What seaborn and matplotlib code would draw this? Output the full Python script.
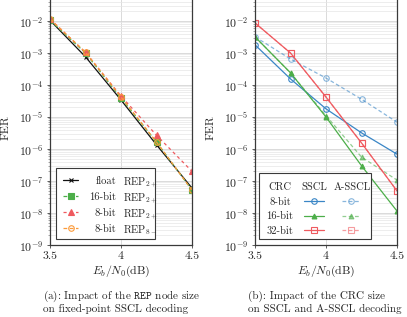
import numpy as np
import matplotlib
matplotlib.use("Agg")
import matplotlib.pyplot as plt
import seaborn as sns
from matplotlib.ticker import FixedLocator, FuncFormatter, LogLocator, NullFormatter
from matplotlib.offsetbox import DrawingArea, AnchoredOffsetbox
from matplotlib.lines import Line2D
from matplotlib.text import Text

sns.set_theme(style="ticks")
plt.rcParams["font.family"] = ["cmr10", "DejaVu Serif"]
plt.rcParams["mathtext.fontset"] = "cm"
plt.rcParams["axes.unicode_minus"] = False
plt.rcParams["axes.formatter.use_mathtext"] = True

# Eb/N0 values (dB)
snr = [3.5, 3.75, 4.0, 4.25, 4.5]

# (a) REP node size, fixed point SSCL
fer_float = [1.05e-2, 7.6e-4, 3.4e-5, 1.35e-6, 6.0e-8]
fer_16bit_rep2 = [1.05e-2, 1.0e-3, 3.9e-5, 1.65e-6, 5.2e-8]
fer_8bit_rep2 = [1.15e-2, 1.05e-3, 4.5e-5, 2.7e-6, 2.0e-7]
fer_8bit_rep8 = [1.15e-2, 1.05e-3, 4.2e-5, 1.65e-6, 5.2e-8]

# (b) CRC size, SSCL vs A-SSCL
sscl_8 = [1.8e-3, 1.55e-4, 1.8e-5, 3.2e-6, 6.9e-7]
sscl_16 = [3.2e-3, 2.4e-4, 1.0e-5, 3.0e-7, 1.15e-8]
sscl_32 = [8.7e-3, 1.0e-3, 4.2e-5, 1.55e-6, 4.9e-8]
assc_8 = [3.2e-3, 6.5e-4, 1.65e-4, 3.6e-5, 6.9e-6]
assc_16 = [3.2e-3, 2.4e-4, 1.1e-5, 5.6e-7, 1.07e-7]
assc_32 = [8.7e-3, 1.0e-3, 4.2e-5, 1.55e-6, 4.9e-8]

decades = [1e-9, 1e-8, 1e-7, 1e-6, 1e-5, 1e-4, 1e-3, 1e-2]

BLUE = "#3a86c6"
GREEN = "#4cae49"
RED = "#ef5a5f"
ORANGE = "#fb9a3a"
DASH = (0, (3, 2))
PX = 72 / 100  # points per pixel
FS = 8.5
LFS = 7.6
SERIF = ["cmr10", "DejaVu Serif"]

fig = plt.figure(figsize=(4.07, 3.17), dpi=100)
ax1 = fig.add_axes([50 / 407, 72 / 317, 142 / 407, 256 / 317])
ax2 = fig.add_axes([255 / 407, 72 / 317, 142 / 407, 256 / 317])


def style_axis(ax):
    ax.set_yscale("log")
    ax.set_xlim(3.5, 4.5)
    ax.set_ylim(1e-9, 1e-1)
    ax.xaxis.set_major_locator(FixedLocator([3.5, 4.0, 4.5]))
    ax.xaxis.set_major_formatter(FuncFormatter(lambda v, p: "%g" % v))
    ax.yaxis.set_major_locator(FixedLocator(decades))
    ax.yaxis.set_minor_locator(LogLocator(base=10, subs=np.arange(2, 10), numticks=20))
    ax.yaxis.set_minor_formatter(NullFormatter())
    ax.yaxis.set_major_formatter(FuncFormatter(lambda v, p: r"$10^{%d}$" % round(np.log10(v))))
    ax.grid(True, which="major", color="#d4d4d4", lw=0.6)
    ax.grid(True, which="minor", axis="y", color="#e6e6e6", lw=0.5)
    ax.tick_params(which="major", direction="out", length=2.5, width=0.6, color="#444444",
                   labelsize=FS, pad=2)
    ax.tick_params(which="minor", direction="out", length=1.2, width=0.4, color="#666666")
    for s in ax.spines.values():
        s.set_color("#3a3a3a")
        s.set_linewidth(0.9)
    ax.set_ylabel("FER", fontsize=FS)
    ax.yaxis.set_label_coords(-0.28, 0.46)
    ax.set_xlabel(r"$E_b/N_0$(dB)", fontsize=FS)
    ax.xaxis.set_label_coords(0.5, -0.075)


def curve(ax, y, color, marker, ls="-", filled=False, ms=4, alpha=1.0):
    sns.lineplot(x=snr, y=y, ax=ax, color=color, linestyle=ls, lw=0.9, alpha=alpha,
                 marker=marker, markersize=ms, markeredgewidth=0.8,
                 markeredgecolor=color, markerfacecolor=color if filled else "none")


def legend_box(ax, w, h, anchor):
    da = DrawingArea(w * PX, h * PX, clip=False)
    ab = AnchoredOffsetbox(loc="lower left", child=da, pad=0.0, borderpad=0.0, frameon=True,
                           bbox_to_anchor=anchor, bbox_transform=ax.transAxes)
    ab.patch.set_boxstyle("square", pad=0)
    ab.patch.set_edgecolor("#3a3a3a")
    ab.patch.set_linewidth(0.8)
    ab.patch.set_facecolor("white")
    ab.set_zorder(6)
    ax.add_artist(ab)
    return da


def add_handle(da, h, cx, cy, half, color, marker, ls="-", filled=False, ms=4, alpha=1.0):
    y = (h - cy) * PX
    da.add_artist(Line2D([(cx - half) * PX, (cx + half) * PX], [y, y], color=color, lw=0.9,
                         linestyle=ls, alpha=alpha))
    da.add_artist(Line2D([cx * PX], [y], color=color, marker=marker, markersize=ms,
                         markeredgewidth=0.8, markerfacecolor=color if filled else "none",
                         alpha=alpha, linestyle="none"))


def add_text(da, h, x, y, s, ha):
    da.add_artist(Text(x * PX, (h - y) * PX, s, ha=ha, va="center_baseline", fontsize=LFS,
                       family=SERIF))


# ---- (a)
style_axis(ax1)
curve(ax1, fer_float, "#111111", "x", ms=3.5)
curve(ax1, fer_16bit_rep2, GREEN, "s", ls=DASH, filled=True, ms=4)
curve(ax1, fer_8bit_rep2, RED, "^", ls=(0, (2.5, 2.5)), filled=True, ms=4)
curve(ax1, fer_8bit_rep8, ORANGE, "o", ls=DASH, ms=4)

da = legend_box(ax1, 99, 71, (6 / 142, 6 / 256))
rep2 = r"$\mathrm{REP}_{2+}$"
rep8 = r"$\mathrm{REP}_{8-}$"
rows_a = [("float", rep2, "#111111", "x", "-", False, 3.5),
          ("16-bit", rep2, GREEN, "s", DASH, True, 4),
          ("8-bit", rep2, RED, "^", (0, (2.5, 2.5)), True, 4),
          ("8-bit", rep8, ORANGE, "o", DASH, False, 4)]
for i, (lab, rep, c, m, ls, f, ms) in enumerate(rows_a):
    yy = 12 + i * 16
    add_handle(da, 71, 14.5, yy, 7.5, c, m, ls, f, ms)
    add_text(da, 71, 60, yy, lab, "right")
    add_text(da, 71, 67, yy, rep, "left")

# ---- (b)
style_axis(ax2)
curve(ax2, assc_32, RED, "s", ls=DASH, ms=4, alpha=0.6)
curve(ax2, assc_16, GREEN, "^", ls=DASH, filled=True, ms=3.5, alpha=0.6)
curve(ax2, assc_8, BLUE, "o", ls=DASH, ms=4, alpha=0.6)
curve(ax2, sscl_8, BLUE, "o", ms=4)
curve(ax2, sscl_16, GREEN, "^", filled=True, ms=3.5)
curve(ax2, sscl_32, RED, "s", ms=4)

db = legend_box(ax2, 112, 66, (4 / 142, 6 / 256))
add_text(db, 66, 21, 13, "CRC", "center")
add_text(db, 66, 55, 13, "SSCL", "center")
add_text(db, 66, 93, 13, "A-SSCL", "center")
rows_b = [("8-bit", BLUE, "o", False, 4),
          ("16-bit", GREEN, "^", True, 3.5),
          ("32-bit", RED, "s", False, 4)]
for i, (lab, c, m, f, ms) in enumerate(rows_b):
    yy = 28 + i * 14.6
    add_text(db, 66, 21, yy, lab, "center")
    add_handle(db, 66, 55, yy, 10, c, m, "-", f, ms)
    add_handle(db, 66, 92, yy, 9, c, m, DASH, f, ms, alpha=0.6)

# captions
cap_kw = dict(fontsize=8.0, ha="left", va="center", family=SERIF)
fig.text(43 / 407, 1 - 296 / 317, r"(a): Impact of the $\mathtt{REP}$ node size", **cap_kw)
fig.text(43 / 407, 1 - 309 / 317, "on fixed-point SSCL decoding", **cap_kw)
fig.text(248 / 407, 1 - 296 / 317, "(b): Impact of the CRC size", **cap_kw)
fig.text(248 / 407, 1 - 309 / 317, "on SSCL and A-SSCL decoding", **cap_kw)

fig.savefig("out.png", dpi=100)
